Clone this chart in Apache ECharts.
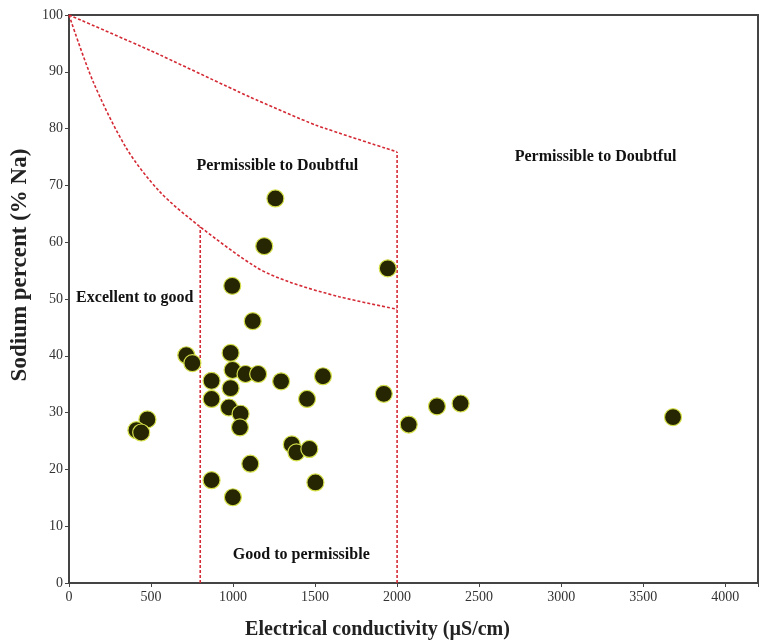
<!DOCTYPE html>
<html>
<head>
<meta charset="utf-8">
<script src="https://cdn.jsdelivr.net/npm/echarts@6/dist/echarts.min.js"></script>
<style>
    html, body {margin: 0; padding: 0; background: #fff;}
    #main {width: 760px; height: 640px;}
</style>
</head>
<body>
<div id="main"></div>
<script>
// samples: EC (µS/cm) and Na %
var ecValues = [1258, 1190, 1943, 995, 1120, 715, 752, 985, 997, 1076, 1153, 869, 1293, 1548,
    985, 869, 1451, 1919, 975, 1046, 1042, 478, 411, 440, 2071, 1358, 1386, 1465, 1105,
    869, 1502, 999, 2243, 2387, 3682];
var naValues = [67.7, 59.3, 55.4, 52.3, 46.1, 40.1, 38.7, 40.5, 37.5, 36.8, 36.8, 35.6, 35.5, 36.4,
    34.3, 32.4, 32.4, 33.3, 30.9, 29.8, 27.4, 28.8, 26.9, 26.5, 27.9, 24.4, 23.0, 23.6, 21.0,
    18.1, 17.7, 15.1, 31.1, 31.6, 29.2];

// Wilcox boundaries
var upperLine = [[0, 100], [492, 93.8], [1100, 85.6], [1506, 80.6], [2000, 75.9]];
var lowerCurve = [[0, 100], [148, 88.2], [351, 76.5], [553, 68.9], [800, 62.7],
    [1141, 55.6], [1343, 53.0], [1647, 50.4], [2000, 48.2]];
var line800 = [[800, 0], [800, 62.7]];
var line2000 = [[2000, 0], [2000, 75.9]];

var zoneNames = ['Permissible to Doubtful', 'Excellent to good', 'Good to permissible', 'Permissible to Doubtful'];
var zonePos = [[1270, 73.4], [401, 50.2], [1416, 4.9], [3210, 75]];

var serif = '"Liberation Serif", "DejaVu Serif", serif';

var myChart = echarts.init(document.getElementById('main'));

var pts = [];
for (var i = 0; i < ecValues.length; i++) {
    pts.push([ecValues[i], naValues[i]]);
}
var zones = [];
for (var j = 0; j < zoneNames.length; j++) {
    zones.push({value: zonePos[j], name: zoneNames[j]});
}

function boundary(d, smooth) {
    return {
        type: 'line',
        data: d,
        symbol: 'none',
        silent: true,
        smooth: smooth || false,
        z: 1,
        lineStyle: {color: '#d42a35', width: 1.6, type: [3, 2]}
    };
}

var option = {
    animation: false,
    grid: {
        left: 69, right: 2, top: 15, bottom: 57,
        outerBoundsMode: 'none',
        show: true, borderColor: '#444', borderWidth: 2
    },
    xAxis: {
        type: 'value',
        min: 0, max: 4200, interval: 500,
        name: 'Electrical conductivity (µS/cm)',
        nameLocation: 'middle',
        nameGap: 37,
        nameTextStyle: {fontFamily: serif, fontWeight: 'bold', fontSize: 20, color: '#222', padding: [0, 72, 0, 0]},
        splitLine: {show: false},
        axisLine: {lineStyle: {color: '#444', width: 2}},
        axisTick: {lineStyle: {color: '#444'}, length: 4},
        axisLabel: {
            fontFamily: serif, fontSize: 14, color: '#333', margin: 7,
            formatter: function (v) { return v > 4000 ? '' : v; }
        }
    },
    yAxis: {
        type: 'value',
        min: 0, max: 100, interval: 10,
        name: 'Sodium percent (% Na)',
        nameLocation: 'middle',
        nameGap: 34,
        nameTextStyle: {fontFamily: serif, fontWeight: 'bold', fontSize: 23, color: '#222', padding: [0, 0, 0, 68]},
        splitLine: {show: false},
        axisLine: {lineStyle: {color: '#444', width: 2}},
        axisTick: {lineStyle: {color: '#444'}, length: 4},
        axisLabel: {fontFamily: serif, fontSize: 14, color: '#333', margin: 6}
    },
    series: [
        boundary(upperLine, 0.2),
        boundary(lowerCurve, 0.3),
        boundary(line800),
        boundary(line2000),
        {
            type: 'scatter',
            data: zones,
            symbolSize: 0,
            silent: true,
            itemStyle: {opacity: 1},
            label: {
                show: true,
                position: 'inside',
                formatter: '{b}',
                opacity: 1,
                textBorderWidth: 0,
                fontFamily: serif, fontWeight: 'bold', fontSize: 16, color: '#111'
            }
        },
        {
            type: 'scatter',
            data: pts,
            symbolSize: 17,
            z: 5,
            itemStyle: {color: '#262603', borderColor: '#d6e04a', borderWidth: 1.2, opacity: 1}
        }
    ]
};

myChart.setOption(option);
</script>
</body>
</html>
